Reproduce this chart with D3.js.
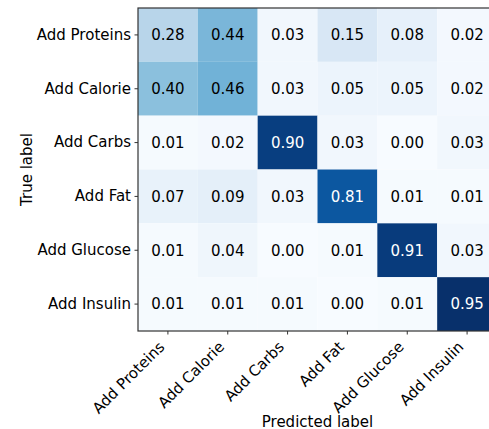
<!DOCTYPE html>
<html>
<head>
<meta charset="utf-8">
<script src="https://cdn.jsdelivr.net/npm/d3@7"></script>
<style>
  html, body { margin: 0; padding: 0; background: #fff; }
  svg { display: block; }
  text { font-family: "DejaVu Sans", sans-serif; }
</style>
</head>
<body>
<svg id="chart" width="489" height="429"></svg>
<script>
// Confusion matrix of predicted vs. true action labels (row-normalised)
const classes = ["Add Proteins", "Add Calorie", "Add Carbs", "Add Fat", "Add Glucose", "Add Insulin"];

const rowProteins = [0.28, 0.44, 0.03, 0.15, 0.08, 0.02];
const rowCalorie  = [0.40, 0.46, 0.03, 0.05, 0.05, 0.02];
const rowCarbs    = [0.01, 0.02, 0.90, 0.03, 0.00, 0.03];
const rowFat      = [0.07, 0.09, 0.03, 0.81, 0.01, 0.01];
const rowGlucose  = [0.01, 0.04, 0.00, 0.01, 0.91, 0.03];
const rowInsulin  = [0.01, 0.01, 0.01, 0.00, 0.01, 0.95];

const matrix = [rowProteins, rowCalorie, rowCarbs, rowFat, rowGlucose, rowInsulin];

const xLabel = "Predicted label";
const yLabel = "True label";

const svg = d3.select("#chart");
const margin = { left: 138, top: 8 };
const plotW = 359, plotH = 323;
const fontSize = 15;

const x = d3.scaleBand().domain(classes).range([margin.left, margin.left + plotW]);
const y = d3.scaleBand().domain(classes).range([margin.top, margin.top + plotH]);

// Sequential "Blues" ramp, piecewise-linear through the ColorBrewer stops
const blues = ["#f7fbff","#deebf7","#c6dbef","#9ecae1","#6baed6","#4292c6","#2171b5","#08519c","#08306b"];
const vals = matrix.flat();
const vmin = d3.min(vals), vmax = d3.max(vals);
const color = d3.scaleLinear()
  .domain(blues.map((_, i) => vmin + (vmax - vmin) * i / (blues.length - 1)))
  .range(blues)
  .interpolate(d3.interpolateRgb);
const thresh = vmax / 2;

const cells = [];
matrix.forEach((row, i) => row.forEach((v, j) => cells.push({ r: classes[i], c: classes[j], v })));

svg.append("g").selectAll("rect").data(cells).join("rect")
  .attr("x", d => x(d.c))
  .attr("y", d => y(d.r))
  .attr("width", x.bandwidth())
  .attr("height", y.bandwidth())
  .attr("fill", d => color(d.v));

svg.append("g").selectAll("text").data(cells).join("text")
  .attr("x", d => x(d.c) + x.bandwidth() / 2)
  .attr("y", d => y(d.r) + y.bandwidth() / 2)
  .attr("text-anchor", "middle")
  .attr("dy", "0.36em")
  .attr("font-size", fontSize)
  .attr("fill", d => d.v > thresh ? "#ffffff" : "#000000")
  .text(d => d.v.toFixed(2));

// Frame
svg.append("rect")
  .attr("x", margin.left).attr("y", margin.top)
  .attr("width", plotW).attr("height", plotH)
  .attr("fill", "none").attr("stroke", "#333").attr("stroke-width", 1.2);

// Axes
const tickLen = 3.5, tickPad = 3.5;
const xAxis = d3.axisBottom(x).tickSize(tickLen).tickPadding(tickPad).tickSizeOuter(0);
const yAxis = d3.axisLeft(y).tickSize(tickLen).tickPadding(tickPad).tickSizeOuter(0);

const gx = svg.append("g").attr("transform", `translate(0,${margin.top + plotH})`).call(xAxis);
gx.select(".domain").remove();
gx.selectAll(".tick line").attr("stroke", "#333");

// Rotated labels: the rotated box's top-right corner sits just under the tick
const boxH = 1.164 * fontSize, descent = 0.236 * fontSize;
const s45 = Math.SQRT1_2;
const lx = -descent * s45;
const ly = tickLen + tickPad + boxH * s45 - descent * s45;
gx.selectAll(".tick text")
  .attr("font-size", fontSize)
  .attr("fill", "#000")
  .attr("text-anchor", "end")
  .attr("dy", null)
  .attr("y", null)
  .attr("transform", `translate(${lx},${ly}) rotate(-45)`);

const gy = svg.append("g").attr("transform", `translate(${margin.left},0)`).call(yAxis);
gy.select(".domain").remove();
gy.selectAll(".tick line").attr("stroke", "#333");
gy.selectAll(".tick text")
  .attr("font-size", fontSize)
  .attr("fill", "#000");

// Axis titles
svg.append("text")
  .attr("x", margin.left + plotW / 2)
  .attr("y", 426.5)
  .attr("text-anchor", "middle")
  .attr("font-size", fontSize)
  .text(xLabel);

svg.append("text")
  .attr("transform", `translate(31.5,${margin.top + plotH / 2}) rotate(-90)`)
  .attr("text-anchor", "middle")
  .attr("font-size", fontSize)
  .text(yLabel);
</script>
</body>
</html>
